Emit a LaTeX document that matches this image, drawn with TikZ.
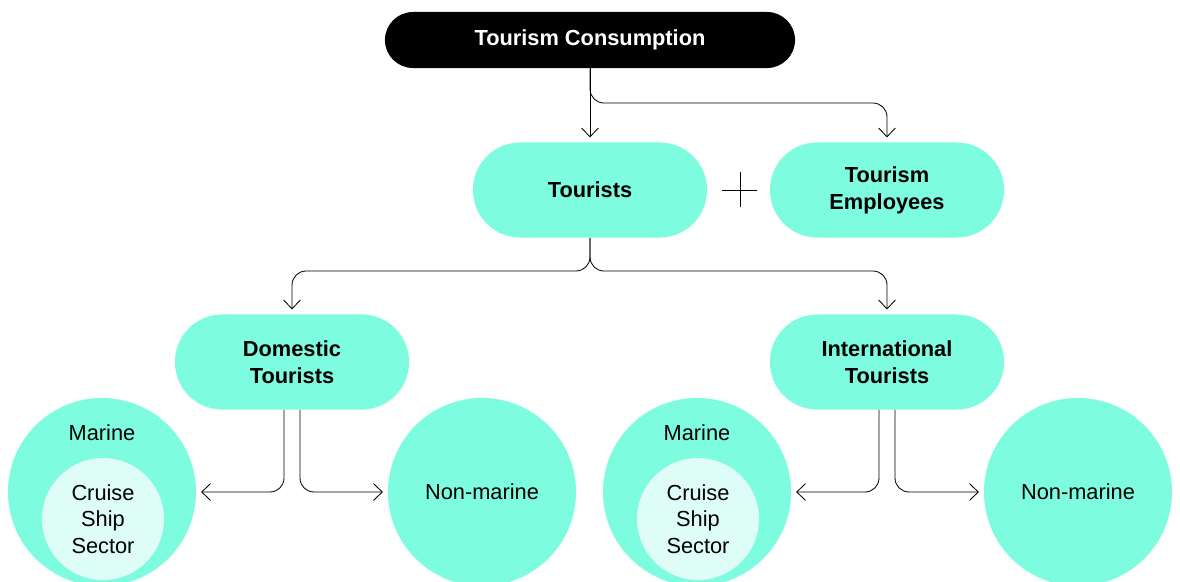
\documentclass[tikz,border=0pt]{standalone}
\usepackage{fontspec}
\setmainfont{Liberation Sans}
\usetikzlibrary{arrows.meta}

\definecolor{mint}{RGB}{125,252,224}
\definecolor{mintpale}{RGB}{221,253,246}

\begin{document}
\begin{tikzpicture}[x=0.025cm, y=-0.025cm, >={Straight Barb[length=0.22cm, width=0.42cm]},
    pill/.style={fill=mint, rounded corners=1.18cm, minimum width=5.85cm, minimum height=2.375cm,
        align=center, font=\fontsize{15.5}{19}\selectfont\bfseries},
    disc/.style={circle, fill=mint, minimum size=4.7cm, font=\fontsize{15.5}{19}\selectfont},
    core/.style={circle, fill=mintpale, minimum size=3.05cm, align=center, font=\fontsize{15.5}{19}\selectfont},
    conn/.style={->, line width=0.6pt, rounded corners=0.35cm, shorten >=0.12cm}]
    \useasboundingbox (0,0) rectangle (1180,581);

    % 1. Khoi tren cung va hai khoi cap hai
    \node[fill=black, text=white, rounded corners=0.7cm, minimum width=10.25cm, minimum height=1.4cm,
        font=\fontsize{15.5}{19}\selectfont\bfseries] (cons) at (590,40) {Tourism Consumption};
    \node[pill] (tour) at (590,190) {Tourists};
    \node[pill] (emp) at (887,190) {Tourism\\Employees};
    \draw[line width=0.6pt] (722,190) -- (757,190) (740,172) -- (740,207);

    % 2. Hai nhom khach
    \node[pill] (dom) at (292,362) {Domestic\\Tourists};
    \node[pill] (intl) at (887,362) {International\\Tourists};

    % 3. Cac vong tron ben duoi
    \node[disc] (mar1) at (102,492) {};
    \node[core] (cru1) at (103,519) {Cruise\\Ship\\Sector};
    \node[font=\fontsize{15.5}{19}\selectfont] (lab1) at (102,433) {Marine};
    \node[disc] (non1) at (482,492) {Non-marine};
    \node[disc] (mar2) at (697,492) {};
    \node[core] (cru2) at (698,519) {Cruise\\Ship\\Sector};
    \node[font=\fontsize{15.5}{19}\selectfont] (lab2) at (697,433) {Marine};
    \node[disc] (non2) at (1078,492) {Non-marine};

    % 4. Cac mui ten
    \coordinate (k1) at (887,103);
    \coordinate (k2) at (292,271);
    \coordinate (k3) at (887,271);
    \draw[conn] (cons.south) -- (tour.north);
    \draw[conn] (cons.south) |- (k1) -- (emp.north);
    \draw[conn] (tour.south) |- (k2) -- (dom.north);
    \draw[conn] (tour.south) |- (k3) -- (intl.north);
    \draw[conn] ([xshift=-0.2cm]dom.south) |- (mar1.east);
    \draw[conn] ([xshift=0.2cm]dom.south) |- (non1.west);
    \draw[conn] ([xshift=-0.2cm]intl.south) |- (mar2.east);
    \draw[conn] ([xshift=0.2cm]intl.south) |- (non2.west);
\end{tikzpicture}
\end{document}
